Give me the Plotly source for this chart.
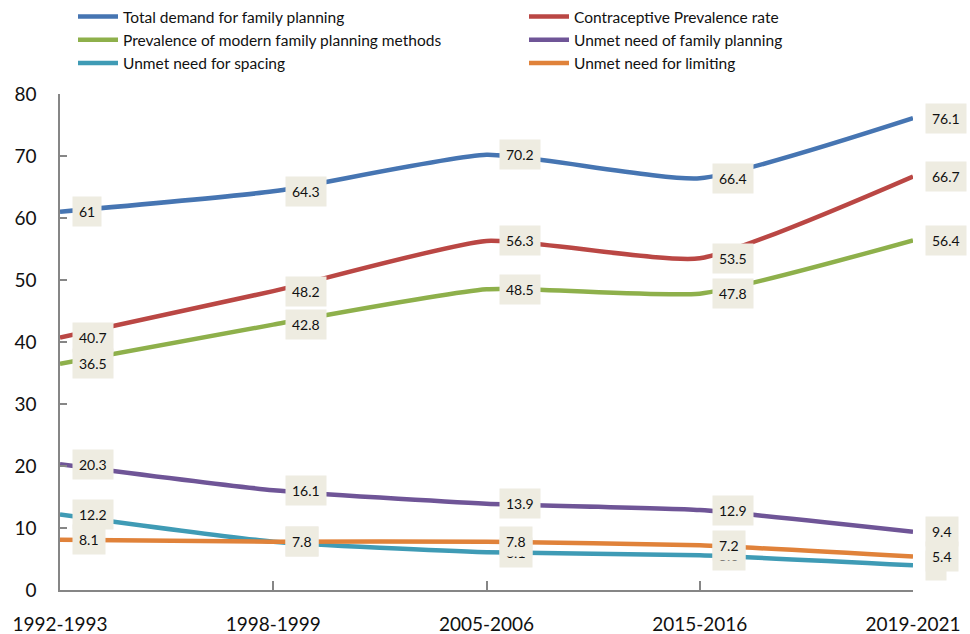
import plotly.graph_objects as go

periods = ["1992-1993", "1998-1999", "2005-2006", "2015-2016", "2019-2021"]
total_demand = [61, 64.3, 70.2, 66.4, 76.1]
cpr = [40.7, 48.2, 56.3, 53.5, 66.7]
modern = [36.5, 42.8, 48.5, 47.8, 56.4]
unmet = [20.3, 16.1, 13.9, 12.9, 9.4]
spacing = [12.2, 7.8, 6.1, 5.6, 4]
limiting = [8.1, 7.8, 7.8, 7.2, 5.4]

series = [
    ("Total demand for family planning", total_demand, "#4675B2", "legend"),
    ("Contraceptive Prevalence rate", cpr, "#BA4744", "legend2"),
    ("Prevalence of modern family planning methods", modern, "#8EB04B", "legend"),
    ("Unmet need of family planning", unmet, "#6F5597", "legend2"),
    ("Unmet need for spacing", spacing, "#3F9BB5", "legend"),
    ("Unmet need for limiting", limiting, "#E0823A", "legend2"),
]

FONT = "Lato, 'Open Sans', sans-serif"
fig = go.Figure()
annotations = []
for name, vals, col, leg in series:
    fig.add_trace(go.Scatter(
        x=periods, y=vals, name=name, mode="lines", legend=leg,
        line=dict(color=col, width=4.5, shape="spline", smoothing=0.5),
    ))
    for p, v in zip(periods, vals):
        annotations.append(dict(
            x=p, y=v, xref="x", yref="y", text=f"{v:g}", showarrow=False,
            xanchor="left", yanchor="middle", xshift=12,
            bgcolor="#EEECE1", borderpad=6,
            font=dict(family=FONT, size=14, color="#111111"),
        ))

legend_common = dict(
    orientation="v", xref="container", yref="container",
    xanchor="left", yanchor="top", tracegroupgap=0, itemwidth=40,
    bgcolor="rgba(0,0,0,0)",
    font=dict(family=FONT, size=15.5, color="#111111"),
)

fig.update_layout(
    width=970, height=634,
    margin=dict(l=60, r=57, t=94, b=44, autoexpand=False),
    paper_bgcolor="white", plot_bgcolor="white",
    font=dict(family=FONT, color="#111111"),
    showlegend=True,
    legend=dict(x=73 / 970, y=1.0, **legend_common),
    legend2=dict(x=524 / 970, y=1.0, **legend_common),
    annotations=annotations,
)
fig.update_xaxes(
    type="category", range=[0, 4], showgrid=False, zeroline=False,
    showline=True, linecolor="#868686", linewidth=1.5,
    ticks="inside", ticklen=9, tickcolor="#868686", tickwidth=1.5,
    tickfont=dict(family=FONT, size=19, color="#111111"),
    ticklabelstandoff=16,
)
fig.update_yaxes(
    range=[0, 80], dtick=10, showgrid=False, zeroline=False,
    showline=True, linecolor="#868686", linewidth=1.5,
    ticks="inside", ticklen=7, tickcolor="#868686", tickwidth=1.5,
    tickfont=dict(family=FONT, size=19, color="#111111"),
    ticklabelstandoff=18,
)
fig.write_html("out.html")
